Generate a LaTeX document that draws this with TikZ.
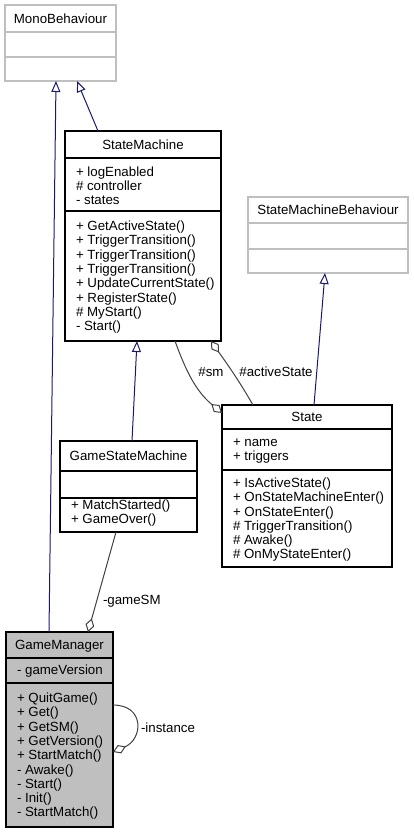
\documentclass[tikz,border=0pt]{standalone}
\usepackage{fontspec}
\setmainfont{Liberation Sans}
\usetikzlibrary{arrows.meta}
\definecolor{navy1}{RGB}{25,25,112}
\definecolor{gray1}{RGB}{64,64,64}
\definecolor{gray2}{RGB}{191,191,191}

\begin{document}
\begin{tikzpicture}[x=1pt, y=1pt, line width=1pt,
  every node/.style={font=\fontsize{13.3}{14.3}\selectfont, inner sep=0pt, outer sep=0pt},
  classbox/.style={draw=black, line width=1.2pt, fill=white, anchor=north west},
  lightbox/.style={draw=gray2, line width=1.2pt, fill=white, anchor=north west},
  headtext/.style={text height=9.5pt, text depth=0pt},
  membertext/.style={align=left, anchor=west},
  labeltext/.style={text height=9.5pt, text depth=0pt},
  inherits/.style={draw=navy1, line width=1pt, -{Triangle[open, length=11pt, width=9pt]}},
  aggregates/.style={draw=gray1, line width=1pt, -{Diamond[open, length=14pt, width=9pt]}}]
  \useasboundingbox (0,0) rectangle (413,-832);

  % base classes
  \node[lightbox, minimum width=111pt, minimum height=76pt] (mono) at (5,-5) {};
  \draw[draw=gray2, line width=1.2pt] ([yshift=-27pt]mono.north west) -- ([yshift=-27pt]mono.north east);
  \draw[draw=gray2, line width=1.2pt] ([yshift=-52pt]mono.north west) -- ([yshift=-52pt]mono.north east);
  \node[headtext] (mono-head) at ([yshift=-13.5pt]mono.north) {MonoBehaviour};

  \node[lightbox, minimum width=160pt, minimum height=76pt] (smb) at (248,-197) {};
  \draw[draw=gray2, line width=1.2pt] ([yshift=-26pt]smb.north west) -- ([yshift=-26pt]smb.north east);
  \draw[draw=gray2, line width=1.2pt] ([yshift=-52pt]smb.north west) -- ([yshift=-52pt]smb.north east);
  \node[headtext] (smb-head) at ([yshift=-13pt]smb.north) {StateMachineBehaviour};

  % StateMachine
  \node[classbox, minimum width=156pt, minimum height=210pt] (sm) at (65,-131) {};
  \draw[line width=1.2pt] ([yshift=-27pt]sm.north west) -- ([yshift=-27pt]sm.north east);
  \draw[line width=1.2pt] ([yshift=-80pt]sm.north west) -- ([yshift=-80pt]sm.north east);
  \node[headtext] (sm-head) at ([yshift=-13.5pt]sm.north) {StateMachine};
  \node[membertext] (sm-attr) at (76,-185.8) {+ logEnabled\\\# controller\\- states};
  \node[membertext] (sm-ops) at (76,-277.3) {+ GetActiveState()\\+ TriggerTransition()\\+ TriggerTransition()\\+ TriggerTransition()\\+ UpdateCurrentState()\\+ RegisterState()\\\# MyStart()\\- Start()};

  % State
  \node[classbox, minimum width=170pt, minimum height=162pt] (state) at (222,-405) {};
  \draw[line width=1.2pt] ([yshift=-24pt]state.north west) -- ([yshift=-24pt]state.north east);
  \draw[line width=1.2pt] ([yshift=-65pt]state.north west) -- ([yshift=-65pt]state.north east);
  \node[headtext] (state-head) at ([yshift=-12pt]state.north) {State};
  \node[membertext] (state-attr) at (233,-450.8) {+ name\\+ triggers};
  \node[membertext] (state-ops) at (233,-519.8) {+ IsActiveState()\\+ OnStateMachineEnter()\\+ OnStateEnter()\\\# TriggerTransition()\\\# Awake()\\\# OnMyStateEnter()};

  % GameStateMachine
  \node[classbox, minimum width=137pt, minimum height=91pt] (gsm) at (60,-441) {};
  \draw[line width=1.2pt] ([yshift=-30pt]gsm.north west) -- ([yshift=-30pt]gsm.north east);
  \draw[line width=1.2pt] ([yshift=-57pt]gsm.north west) -- ([yshift=-57pt]gsm.north east);
  \node[headtext] (gsm-head) at ([yshift=-15pt]gsm.north) {GameStateMachine};
  \node[membertext] (gsm-ops) at (71,-513) {+ MatchStarted()\\+ GameOver()};

  % GameManager
  \node[classbox, fill=gray2, minimum width=107pt, minimum height=195pt] (gm) at (6,-632) {};
  \draw[line width=1.2pt] ([yshift=-26pt]gm.north west) -- ([yshift=-26pt]gm.north east);
  \draw[line width=1.2pt] ([yshift=-51pt]gm.north west) -- ([yshift=-51pt]gm.north east);
  \node[headtext] (gm-head) at ([yshift=-13pt]gm.north) {GameManager};
  \node[membertext] (gm-attr) at (17,-671.5) {- gameVersion};
  \node[membertext] (gm-ops) at (17,-756.3) {+ QuitGame()\\+ Get()\\+ GetSM()\\+ GetVersion()\\+ StartMatch()\\- Awake()\\- Start()\\- Init()\\- StartMatch()};

  % inheritance
  \draw[inherits] ([xshift=43pt]gm.north west) -- ([xshift=51pt]mono.south west);
  \draw[inherits] ([xshift=33pt]sm.north west) -- ([xshift=72pt]mono.south west);
  \draw[inherits] ([xshift=72pt]gsm.north west) -- ([xshift=72pt]sm.south west);
  \draw[inherits] ([xshift=92pt]state.north west) -- ([xshift=77pt]smb.south west);

  % aggregation
  \draw[aggregates] ([xshift=110pt]sm.south west) to[out=-70, in=140] ([yshift=-8pt]state.north west);
  \draw[aggregates] ([xshift=31pt]state.north west) to[out=120, in=-55] ([xshift=146pt]sm.south west);
  \draw[aggregates] ([xshift=56pt]gsm.south west) -- ([xshift=82pt]gm.north west);
  \draw[aggregates] ([yshift=-73pt]gm.north east) .. controls +(32,0) and +(30,13) .. ([yshift=-120pt]gm.north east);
  \node[labeltext] (sm-label) at (211,-372) {\#sm};
  \node[labeltext] (active-label) at (276,-372) {\#activeState};
  \node[labeltext, anchor=west] (gamesm-label) at (103,-600) {-gameSM};
  \node[labeltext, anchor=west] (instance-label) at (141,-728) {-instance};
\end{tikzpicture}
\end{document}
